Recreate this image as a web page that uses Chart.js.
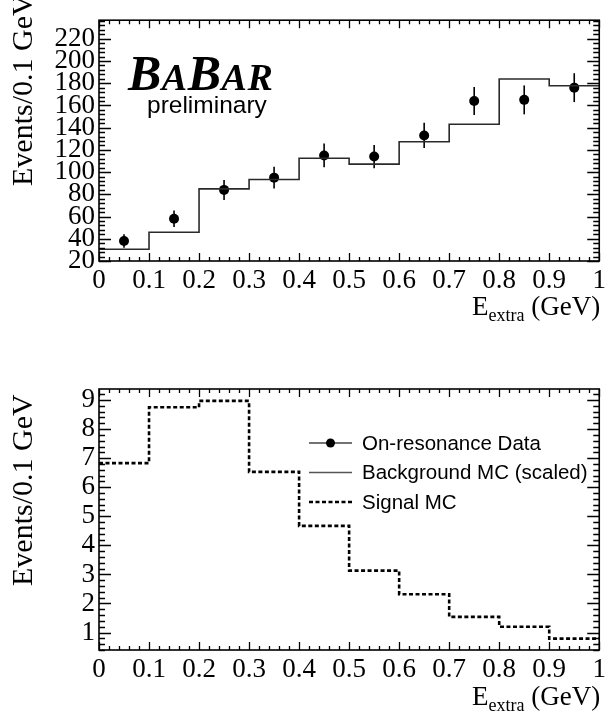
<!DOCTYPE html>
<html><head><meta charset="utf-8">
<script src="https://cdn.jsdelivr.net/npm/chart.js@4.4.0/dist/chart.umd.min.js"></script>
<style>
html,body{margin:0;padding:0;background:#fff;width:610px;height:717px;overflow:hidden;position:relative}
canvas{position:absolute;left:0}
#c1{top:0}
#c2{top:340px}
</style></head><body>
<canvas id="c1" width="610" height="340"></canvas>
<canvas id="c2" width="610" height="377"></canvas>
<script>
// ---- data ----
const binEdges = [0, 0.1, 0.2, 0.3, 0.4, 0.5, 0.6, 0.7, 0.8, 0.9, 1.0];
const binCenters = [0.05, 0.15, 0.25, 0.35, 0.45, 0.55, 0.65, 0.75, 0.85, 0.95];
const dataCounts = [38, 58, 84, 95, 115, 114, 133, 164, 165, 176];
const dataErrors = [6, 7.5, 9, 9.8, 10.7, 10.5, 11.4, 12.5, 13, 13];
const bkgMC = [30.6, 45.9, 84.9, 93.3, 112.5, 107.2, 127.3, 143.1, 183.8, 177.7];
const signalMC = [6.83, 8.75, 8.97, 6.53, 4.67, 3.13, 2.32, 1.54, 1.20, 0.79];
const xTicks = [0, 0.1, 0.2, 0.3, 0.4, 0.5, 0.6, 0.7, 0.8, 0.9, 1];
const xTickLabels = ['0', '0.1', '0.2', '0.3', '0.4', '0.5', '0.6', '0.7', '0.8', '0.9', '1'];
const yTicksTop = [20, 40, 60, 80, 100, 120, 140, 160, 180, 200, 220];
const yTicksBottom = [1, 2, 3, 4, 5, 6, 7, 8, 9];
const legendLabels = ['On-resonance Data', 'Background MC (scaled)', 'Signal MC'];
const yTitle = 'Events/0.1 GeV';

// histogram helper: left-edge points + closing right edge
function histPoints(vals) {
  const pts = vals.map((v, i) => ({x: binEdges[i], y: v}));
  pts.push({x: binEdges[binEdges.length - 1], y: vals[vals.length - 1]});
  return pts;
}
const pointsOf = (xs, ys) => xs.map((x, i) => ({x, y: ys[i]}));

const SERIF = 'Liberation Serif';
const SANS = 'Liberation Sans';

// ---- plugins ----
const errorBars = {
  id: 'errorBars',
  beforeDatasetsDraw(chart) {
    const {ctx, scales: {y}} = chart;
    chart.data.datasets.forEach((ds, di) => {
      if (!ds.errors) return;
      const meta = chart.getDatasetMeta(di);
      ctx.save();
      ctx.strokeStyle = '#000';
      ctx.lineWidth = 1.6;
      meta.data.forEach((el, i) => {
        const v = ds.data[i].y, e = ds.errors[i];
        ctx.beginPath();
        ctx.moveTo(el.x, y.getPixelForValue(v - e));
        ctx.lineTo(el.x, y.getPixelForValue(v + e));
        ctx.stroke();
      });
      ctx.restore();
    });
  }
};

function minorValues(min, max, step) {
  const out = [];
  const k0 = Math.ceil(min / step - 1e-6), k1 = Math.floor(max / step + 1e-6);
  for (let k = k0; k <= k1; k++) out.push(+(k * step).toFixed(6));
  return out;
}

const frameTicks = {
  id: 'frameTicks',
  afterDatasetsDraw(chart, args, o) {
    const {ctx, chartArea: a, scales: {x, y}} = chart;
    ctx.save();
    ctx.strokeStyle = '#000';
    ctx.lineWidth = 1.3;
    ctx.beginPath();
    minorValues(x.min, x.max, o.xMinor).forEach(v => {
      const px = Math.round(x.getPixelForValue(v)) + 0.5;
      const major = xTicks.some(t => Math.abs(t - v) < 1e-6);
      const L = major ? o.xMajorLen : o.xMinorLen;
      ctx.moveTo(px, a.bottom); ctx.lineTo(px, a.bottom - L);
      ctx.moveTo(px, a.top); ctx.lineTo(px, a.top + L);
    });
    minorValues(y.min, y.max, o.yMinor).forEach(v => {
      const py = Math.round(y.getPixelForValue(v)) + 0.5;
      const major = o.yMajor.some(t => Math.abs(t - v) < 1e-6);
      const L = major ? o.yMajorLen : o.yMinorLen;
      ctx.moveTo(a.left, py); ctx.lineTo(a.left + L, py);
      ctx.moveTo(a.right, py); ctx.lineTo(a.right - L, py);
    });
    ctx.stroke();
    ctx.lineWidth = 1.6;
    ctx.strokeRect(a.left, a.top, a.right - a.left, a.bottom - a.top);
    ctx.restore();
  }
};

const axisTitles = {
  id: 'axisTitles',
  afterDraw(chart, args, o) {
    const {ctx, chartArea: a} = chart;
    ctx.save();
    ctx.fillStyle = '#000';
    ctx.translate(o.yTitleX, o.yTitleStart);
    ctx.rotate(-Math.PI / 2);
    ctx.font = `${o.yTitleSize}px "${SERIF}"`;
    ctx.textAlign = 'left';
    ctx.textBaseline = 'middle';
    ctx.fillText(yTitle, 0, 0);
    ctx.restore();
    ctx.save();
    ctx.fillStyle = '#000';
    ctx.textBaseline = 'alphabetic';
    ctx.textAlign = 'left';
    const big = `${o.xTitleSize}px "${SERIF}"`, small = `${o.xSubSize}px "${SERIF}"`;
    ctx.font = big; const wE = ctx.measureText('E').width; const wT = ctx.measureText(' (GeV)').width;
    ctx.font = small; const wS = ctx.measureText('extra').width;
    const base = a.bottom + o.xTitleOffset;
    let x0 = a.right + 1 - (wE + wS + wT);
    ctx.font = big; ctx.fillText('E', x0, base);
    ctx.font = small; ctx.fillText('extra', x0 + wE, base + o.xSubDrop);
    ctx.font = big; ctx.fillText(' (GeV)', x0 + wE + wS, base);
    ctx.restore();
  }
};

const babarLogo = {
  id: 'babarLogo',
  afterDraw(chart, args, o) {
    if (!o.show) return;
    const {ctx} = chart;
    ctx.save();
    ctx.fillStyle = '#000';
    ctx.textBaseline = 'alphabetic';
    ctx.textAlign = 'left';
    const parts = [['B', 50], ['A', 38], ['B', 50], ['A', 38], ['R', 38]];
    let x = o.x;
    parts.forEach(([t, s]) => {
      ctx.font = `italic bold ${s}px "${SERIF}"`;
      ctx.fillText(t, x, o.y);
      x += ctx.measureText(t).width + 0.5;
    });
    ctx.font = `24.5px "${SANS}"`;
    ctx.fillText('preliminary', o.px, o.py);
    ctx.restore();
  }
};

const insideLegend = {
  id: 'insideLegend',
  afterDraw(chart, args, o) {
    if (!o.show) return;
    const {ctx, chartArea: a} = chart;
    ctx.save();
    chart.data.datasets.forEach((ds, i) => {
      const yy = a.top + o.top + i * o.spacing;
      ctx.save();
      ctx.strokeStyle = ds.legendColor || ds.borderColor;
      ctx.lineWidth = ds.legendWidth || ds.borderWidth;
      ctx.setLineDash(ds.borderDash || []);
      ctx.beginPath();
      ctx.moveTo(o.x1, yy); ctx.lineTo(o.x2, yy);
      ctx.stroke();
      ctx.restore();
      if (ds.legendMarker) {
        ctx.beginPath();
        ctx.fillStyle = '#000';
        ctx.arc((o.x1 + o.x2) / 2, yy, 4.5, 0, Math.PI * 2);
        ctx.fill();
      }
      ctx.fillStyle = '#000';
      ctx.font = `20.5px "${SANS}"`;
      ctx.textBaseline = 'middle';
      ctx.textAlign = 'left';
      ctx.fillText(ds.label, o.tx, yy + 1);
    });
    ctx.restore();
  }
};

function axes(yMin, yMax, yTicks, xHeight) {
  return {
    x: {
      type: 'linear', min: 0, max: 1,
      afterBuildTicks: s => { s.ticks = xTicks.map(v => ({value: v})); },
      afterFit: s => { s.height = xHeight; },
      ticks: {
        callback: (v, i) => xTickLabels[i],
        font: {family: SERIF, size: 27}, color: '#000',
        padding: 4, maxRotation: 0, autoSkip: false
      },
      grid: {display: false, drawTicks: false},
      border: {display: false}
    },
    y: {
      type: 'linear', min: yMin, max: yMax,
      afterBuildTicks: s => { s.ticks = yTicks.map(v => ({value: v})); },
      afterFit: s => { s.width = 99; },
      ticks: {
        font: {family: SERIF, size: 27}, color: '#000',
        padding: 4, autoSkip: false
      },
      grid: {display: false, drawTicks: false},
      border: {display: false}
    }
  };
}

Chart.defaults.font.family = SERIF;

new Chart(document.getElementById('c1'), {
  type: 'line',
  data: {
    datasets: [
      {label: legendLabels[1], data: histPoints(bkgMC), stepped: true,
       borderColor: '#2a2a2a', borderWidth: 1.6, pointRadius: 0, fill: false},
      {label: legendLabels[0], data: pointsOf(binCenters, dataCounts), errors: dataErrors,
       showLine: false, pointRadius: 5, pointBackgroundColor: '#000', pointBorderColor: '#000',
       pointBorderWidth: 0, borderColor: '#000'}
    ]
  },
  options: {
    responsive: false, animation: false, events: [],
    layout: {padding: {left: 0, right: 7, top: 1, bottom: 0}},
    scales: axes(20, 236.7, yTicksTop, 79),
    plugins: {
      legend: {display: false}, tooltip: {enabled: false},
      frameTicks: {xMinor: 0.02, yMinor: 4, yMajor: yTicksTop, xMajorLen: 8, xMinorLen: 4, yMajorLen: 12, yMinorLen: 6},
      axisTitles: {yTitleX: 24, yTitleStart: 186, yTitleSize: 30, xTitleSize: 27, xSubSize: 18, xSubDrop: 6, xTitleOffset: 54},
      babarLogo: {show: true, x: 128, y: 90, px: 147, py: 113},
      insideLegend: {show: false}
    }
  },
  plugins: [errorBars, frameTicks, axisTitles, babarLogo, insideLegend]
});

new Chart(document.getElementById('c2'), {
  type: 'line',
  data: {
    datasets: [
      {label: legendLabels[0], data: [], showLine: false, legendMarker: true,
       borderColor: '#000', legendColor: '#444', legendWidth: 1.3, borderWidth: 1.3, pointRadius: 0},
      {label: legendLabels[1], data: [], borderColor: '#555', borderWidth: 1.3, pointRadius: 0},
      {label: legendLabels[2], data: histPoints(signalMC), stepped: true,
       borderColor: '#000', borderWidth: 2.6, borderDash: [4, 2.5], pointRadius: 0, fill: false}
    ]
  },
  options: {
    responsive: false, animation: false, events: [],
    layout: {padding: {left: 0, right: 7, top: 49, bottom: 0}},
    scales: axes(0.4, 9.38, yTicksBottom, 67),
    plugins: {
      legend: {display: false}, tooltip: {enabled: false},
      frameTicks: {xMinor: 0.02, yMinor: 0.2, yMajor: yTicksBottom, xMajorLen: 8, xMinorLen: 4, yMajorLen: 12, yMinorLen: 6},
      axisTitles: {yTitleX: 24, yTitleStart: 246, yTitleSize: 30, xTitleSize: 27, xSubSize: 18, xSubDrop: 6, xTitleOffset: 55},
      babarLogo: {show: false},
      insideLegend: {show: true, top: 54, spacing: 29.5, x1: 309, x2: 352, tx: 362}
    }
  },
  plugins: [errorBars, frameTicks, axisTitles, babarLogo, insideLegend]
});
</script>
</body></html>
